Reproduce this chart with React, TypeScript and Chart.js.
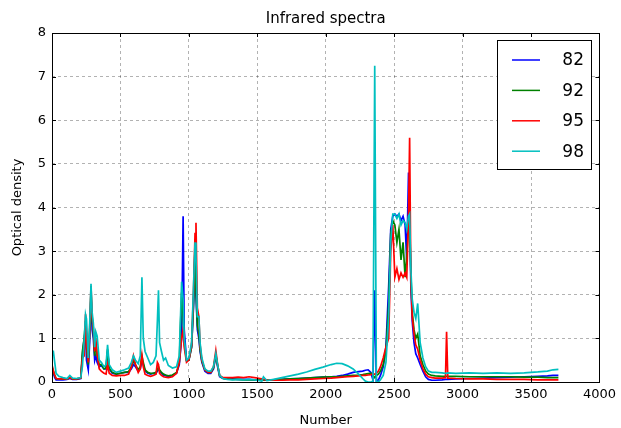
import React, { useEffect, useRef } from "react";
import { Chart, registerables } from "chart.js";

Chart.register(...registerables);

const numbers = [
  0, 10, 20, 30, 50, 80, 110, 130, 150, 180, 210, 222, 235, 245, 252, 265, 275, 285, 293, 302, 312, 320, 330, 345, 360, 380, 395, 406, 418, 440, 470, 500, 530, 560, 580, 595, 610, 630, 645, 657, 667, 680, 700, 720, 740, 760, 770, 778, 786, 800, 815, 830, 850, 880, 910, 930, 947, 958, 966, 983, 1000, 1020, 1035, 1045, 1052, 1062, 1073, 1082, 1095, 1117, 1140, 1160, 1180, 1197, 1210, 1225, 1250, 1280,
  1320, 1360, 1400, 1440, 1480, 1520, 1533, 1545, 1570, 1620, 1680, 1740, 1800, 1860, 1920, 1980, 2040, 2080, 2120, 2160, 2200, 2240, 2270, 2290, 2310, 2330, 2345, 2358, 2370, 2385,
  2400, 2420, 2440, 2460, 2475, 2490, 2505, 2520, 2535, 2550, 2565, 2580, 2592, 2605, 2613, 2622, 2632, 2645, 2658, 2672, 2690, 2710, 2730, 2750, 2775,
  2800, 2850, 2875, 2883, 2892, 2950, 3050, 3150, 3250, 3350, 3450, 3550, 3620, 3660, 3700,
];

const s82 = [
  0.30, 0.20, 0.10, 0.05, 0.05, 0.05, 0.06, 0.08, 0.06, 0.06, 0.08, 0.60, 1.00, 1.20, 0.50, 0.28, 0.90, 2.00, 1.20, 1.00, 0.50, 0.60, 0.45, 0.35, 0.38, 0.30, 0.30, 0.70, 0.30, 0.20, 0.18, 0.20, 0.22, 0.22, 0.30, 0.40, 0.35, 0.25, 0.30, 0.50, 0.40, 0.25, 0.20, 0.18, 0.20, 0.20, 0.25, 0.30, 0.25, 0.20, 0.15, 0.15, 0.12, 0.15, 0.20, 0.40, 1.00, 3.80, 1.20, 0.50, 0.50, 0.80, 1.80, 3.00, 2.00, 1.20, 1.00, 0.70, 0.45, 0.25, 0.20, 0.20, 0.30, 0.60, 0.35, 0.12, 0.08, 0.07,
  0.07, 0.06, 0.06, 0.06, 0.05, 0.05, 0.05, 0.05, 0.05, 0.05, 0.06, 0.07, 0.08, 0.09, 0.10, 0.11, 0.12, 0.13, 0.15, 0.18, 0.22, 0.24, 0.25, 0.27, 0.28, 0.22, 0.05, 2.10, 0.02, 0.05,
  0.15, 0.35, 0.80, 2.20, 3.50, 3.80, 3.85, 3.80, 3.85, 3.70, 3.80, 3.60, 2.80, 4.80, 3.80, 2.20, 1.40, 0.90, 0.65, 0.55, 0.40, 0.25, 0.12, 0.06, 0.04,
  0.04, 0.05, 0.06, 0.06, 0.06, 0.07, 0.08, 0.09, 0.10, 0.11, 0.12, 0.13, 0.14, 0.15, 0.15,
];

const s92 = [
  0.35, 0.25, 0.15, 0.08, 0.07, 0.07, 0.07, 0.10, 0.07, 0.07, 0.09, 0.70, 1.00, 1.40, 0.80, 0.40, 1.10, 2.10, 1.40, 1.15, 0.60, 0.90, 0.60, 0.40, 0.40, 0.30, 0.32, 0.75, 0.32, 0.22, 0.18, 0.20, 0.22, 0.24, 0.35, 0.50, 0.40, 0.28, 0.35, 0.60, 0.45, 0.28, 0.22, 0.20, 0.20, 0.22, 0.28, 0.35, 0.28, 0.22, 0.18, 0.16, 0.14, 0.16, 0.22, 0.45, 2.05, 1.50, 0.90, 0.50, 0.50, 0.80, 1.90, 3.10, 2.10, 1.30, 1.10, 0.75, 0.48, 0.28, 0.22, 0.22, 0.32, 0.62, 0.38, 0.14, 0.08, 0.07,
  0.06, 0.06, 0.05, 0.05, 0.05, 0.05, 0.05, 0.05, 0.05, 0.05, 0.06, 0.07, 0.08, 0.09, 0.10, 0.11, 0.12, 0.12, 0.13, 0.14, 0.15, 0.16, 0.17, 0.18, 0.19, 0.20, 0.16, 0.10, 0.15, 0.18,
  0.25, 0.40, 0.70, 1.80, 3.40, 3.70, 3.60, 3.20, 3.50, 2.80, 3.20, 2.40, 2.90, 3.60, 3.70, 2.50, 1.60, 1.20, 1.00, 1.10, 0.60, 0.40, 0.25, 0.18, 0.15,
  0.14, 0.13, 0.13, 0.13, 0.13, 0.13, 0.12, 0.12, 0.12, 0.12, 0.11, 0.11, 0.10, 0.10, 0.10,
];

const s95 = [
  0.40, 0.25, 0.15, 0.08, 0.07, 0.07, 0.07, 0.10, 0.07, 0.07, 0.09, 0.55, 0.60, 1.55, 0.90, 0.45, 1.20, 2.20, 1.50, 1.25, 0.70, 1.00, 0.65, 0.30, 0.25, 0.20, 0.18, 0.40, 0.20, 0.15, 0.14, 0.15, 0.15, 0.18, 0.35, 0.60, 0.40, 0.22, 0.30, 0.62, 0.35, 0.18, 0.15, 0.13, 0.15, 0.18, 0.45, 0.40, 0.20, 0.15, 0.12, 0.11, 0.10, 0.12, 0.20, 0.45, 1.00, 1.20, 0.80, 0.45, 0.50, 0.85, 2.20, 3.40, 3.65, 1.70, 1.50, 0.85, 0.50, 0.28, 0.22, 0.22, 0.35, 0.72, 0.40, 0.15, 0.10, 0.10,
  0.10, 0.11, 0.10, 0.12, 0.10, 0.08, 0.07, 0.06, 0.05, 0.04, 0.04, 0.05, 0.05, 0.06, 0.07, 0.08, 0.09, 0.10, 0.11, 0.12, 0.13, 0.14, 0.15, 0.15, 0.16, 0.17, 0.18, 0.18, 0.20, 0.25,
  0.35, 0.55, 0.80, 1.00, 3.00, 3.60, 2.40, 2.60, 2.35, 2.50, 2.40, 2.50, 2.40, 3.80, 5.60, 2.40, 1.50, 1.10, 0.85, 0.75, 0.50, 0.30, 0.18, 0.12, 0.10,
  0.09, 0.09, 0.10, 1.15, 0.09, 0.08, 0.07, 0.07, 0.06, 0.06, 0.06, 0.05, 0.05, 0.05, 0.05,
];

const s98 = [
  0.70, 0.70, 0.45, 0.20, 0.13, 0.10, 0.08, 0.15, 0.09, 0.08, 0.10, 0.35, 0.95, 1.55, 1.45, 0.55, 1.30, 2.25, 1.60, 1.35, 0.80, 1.15, 1.05, 0.50, 0.45, 0.35, 0.40, 0.85, 0.40, 0.28, 0.22, 0.25, 0.28, 0.32, 0.45, 0.60, 0.50, 0.42, 0.60, 2.40, 1.00, 0.70, 0.55, 0.40, 0.45, 0.60, 1.40, 2.10, 0.90, 0.70, 0.50, 0.55, 0.38, 0.32, 0.35, 0.60, 2.30, 1.90, 1.00, 0.50, 0.55, 0.90, 2.30, 3.20, 2.90, 1.50, 1.50, 0.90, 0.55, 0.30, 0.25, 0.25, 0.35, 0.65, 0.40, 0.15, 0.08, 0.06,
  0.05, 0.06, 0.05, 0.06, 0.05, 0.03, 0.02, 0.12, 0.03, 0.06, 0.10, 0.14, 0.18, 0.23, 0.29, 0.34, 0.40, 0.43, 0.42, 0.37, 0.30, 0.18, 0.08, 0.02, 0.00, 0.00, 0.02, 7.25, 0.02, 0.00,
  0.05, 0.15, 0.45, 1.50, 3.20, 3.85, 3.85, 3.75, 3.85, 3.60, 3.70, 3.65, 3.50, 3.80, 3.85, 2.60, 1.90, 1.60, 1.45, 1.80, 0.90, 0.55, 0.35, 0.25, 0.22,
  0.22, 0.21, 0.20, 0.20, 0.21, 0.20, 0.21, 0.20, 0.21, 0.20, 0.21, 0.23, 0.25, 0.28, 0.29,
];

const seriesLabels = ["82", "92", "95", "98"];
const seriesColors = ["#0000ff", "#008000", "#ff0000", "#00bfbf"];
const seriesValues = [s82, s92, s95, s98];
const xTicks = [0, 500, 1000, 1500, 2000, 2500, 3000, 3500, 4000];
const yTicks = [0, 1, 2, 3, 4, 5, 6, 7, 8];

const FONT = "'DejaVu Sans', sans-serif";

const framePlugin = {
  id: "frameAndLegend",
  afterDraw(chart: any) {
    const { ctx, chartArea, scales } = chart;
    const { left, right, top, bottom } = chartArea;
    ctx.save();
    ctx.strokeStyle = "#000";
    ctx.lineWidth = 1;
    ctx.beginPath();
    xTicks.forEach((v) => {
      const px = Math.round(scales.x.getPixelForValue(v)) + 0.5;
      ctx.moveTo(px, bottom);
      ctx.lineTo(px, bottom - 4);
      ctx.moveTo(px, top);
      ctx.lineTo(px, top + 4);
    });
    yTicks.forEach((v) => {
      const py = Math.round(scales.y.getPixelForValue(v)) + 0.5;
      ctx.moveTo(left, py);
      ctx.lineTo(left + 4, py);
      ctx.moveTo(right, py);
      ctx.lineTo(right - 4, py);
    });
    ctx.stroke();
    ctx.strokeRect(Math.round(left) + 0.5, Math.round(top) + 0.5, Math.round(right - left), Math.round(bottom - top));
    const bx = 497, by = 40, bw = 94, bh = 129;
    ctx.fillStyle = "#fff";
    ctx.fillRect(bx, by, bw, bh);
    ctx.strokeRect(bx + 0.5, by + 0.5, bw, bh);
    ctx.font = `17px ${FONT}`;
    ctx.textAlign = "right";
    ctx.textBaseline = "middle";
    seriesLabels.forEach((lab, i) => {
      const y = 60 + i * 30.4;
      ctx.strokeStyle = seriesColors[i];
      ctx.lineWidth = 1.5;
      ctx.beginPath();
      ctx.moveTo(512, y);
      ctx.lineTo(540, y);
      ctx.stroke();
      ctx.fillStyle = "#000";
      ctx.fillText(lab, 584, y + 1);
    });
    ctx.restore();
  },
};

export default function App() {
  const ref = useRef<HTMLCanvasElement>(null);
  useEffect(() => {
    if (!ref.current) return;
    const datasets = seriesLabels.map((lab, i) => ({
      label: lab,
      data: numbers.map((x, j) => ({ x, y: seriesValues[i][j] })),
      borderColor: seriesColors[i],
      backgroundColor: seriesColors[i],
      borderWidth: 1.7,
      pointRadius: 0,
      tension: 0,
      order: 3 - i,
    }));
    const chart = new Chart(ref.current, {
      type: "line",
      data: { datasets },
      plugins: [framePlugin],
      options: {
        animation: false,
        responsive: false,
        devicePixelRatio: 1,
        layout: { padding: { left: 0, right: 21, top: 0, bottom: 0 } },
        plugins: {
          legend: { display: false },
          tooltip: { enabled: false },
          title: {
            display: true,
            text: "Infrared spectra",
            fullSize: false,
            color: "#000",
            font: { family: FONT, size: 15, weight: "normal" },
            padding: { top: 10, bottom: 5 },
          },
        },
        scales: {
          x: {
            type: "linear",
            min: 0,
            max: 4000,
            ticks: {
              stepSize: 500,
              color: "#000",
              font: { family: FONT, size: 13 },
              padding: 5,
              maxRotation: 0,
              callback: (v: any) => String(v),
            },
            grid: { color: "rgba(0,0,0,0.3)", tickLength: 0, drawTicks: false },
            border: { display: false, dash: [3, 3] },
            title: { display: true, text: "Number", color: "#000", font: { family: FONT, size: 13 }, padding: { top: 5, bottom: 0 } },
            afterFit: (s: any) => { s.height = 46; },
          },
          y: {
            type: "linear",
            min: 0,
            max: 8,
            ticks: { stepSize: 1, color: "#000", font: { family: FONT, size: 13 }, padding: 6, callback: (v: any) => String(v) },
            grid: { color: "rgba(0,0,0,0.3)", tickLength: 0, drawTicks: false },
            border: { display: false, dash: [3, 3] },
            title: { display: true, text: "Optical density", color: "#000", font: { family: FONT, size: 13 }, padding: { top: 10, bottom: 4 } },
            afterFit: (s: any) => { s.width = 52; },
          },
        },
      },
    });
    return () => chart.destroy();
  }, []);
  return (
    <div style={{ position: "absolute", left: 0, top: 0, width: 621, height: 428, background: "#fff" }}>
      <canvas ref={ref} width={621} height={428} />
    </div>
  );
}
